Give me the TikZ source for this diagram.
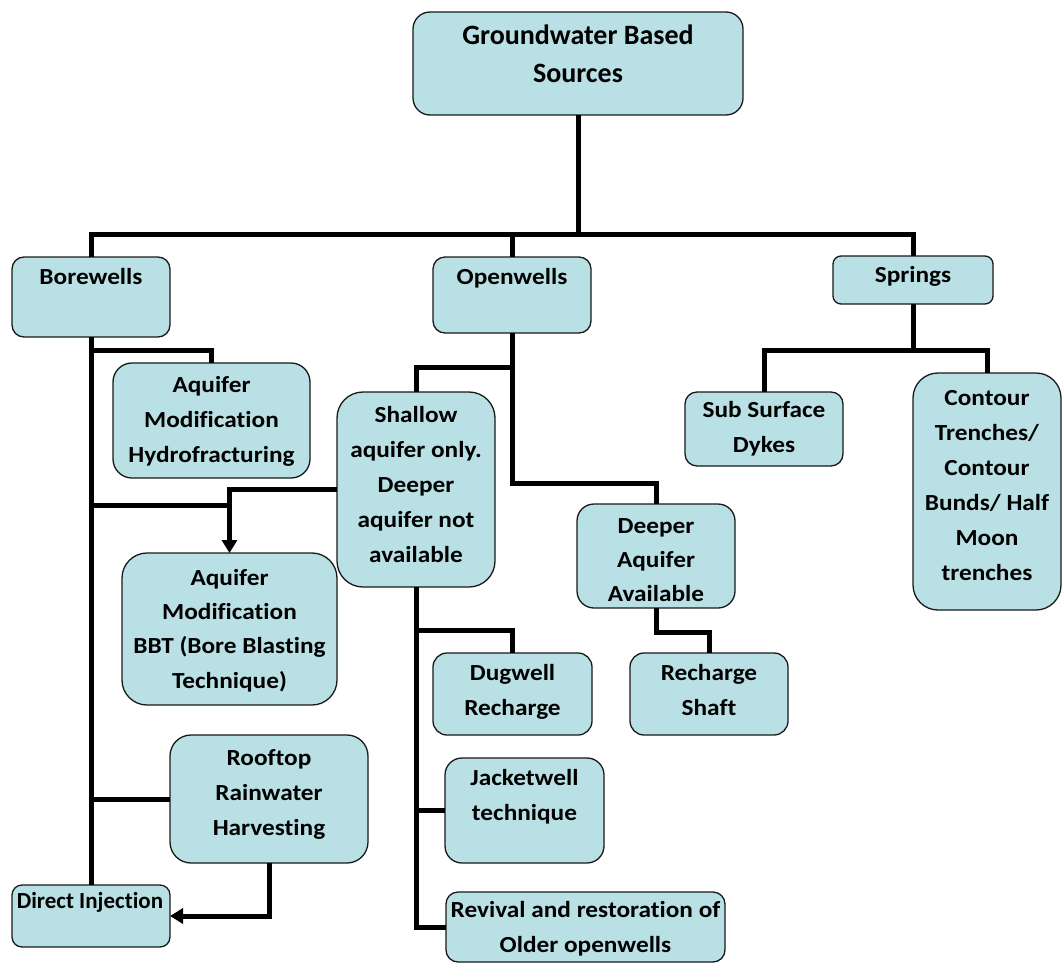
\documentclass[tikz,border=0pt]{standalone}
\usepackage{fontspec}
\setmainfont{Carlito}[FakeStretch=1.1, Ligatures=NoCommon]
\newfontfamily\plainfont{Carlito}[Ligatures=NoCommon]
\usetikzlibrary{arrows.meta}
\definecolor{boxfill}{RGB}{185,224,228}
\definecolor{boxline}{RGB}{25,25,25}
\tikzset{
  box/.style={draw=boxline, fill=boxfill, line width=1.3pt, inner sep=0pt, outer sep=0pt},
  txt/.style={align=center, inner sep=0pt, anchor=base, font=\fontsize{23}{35}\selectfont\bfseries},
  conn/.style={draw=black, line width=5pt},
  arr/.style={-{Triangle[length=13pt,width=15pt]}}
}
\begin{document}
\begin{tikzpicture}[x=1pt,y=-1pt]
\useasboundingbox (0,0) rectangle (1063,964);

% boxes
\node[box, minimum width=330, minimum height=103, rounded corners=17] (top) at (578,63.5) {};
\node[box, minimum width=158, minimum height=80, rounded corners=12] (bore) at (91,297) {};
\node[box, minimum width=158, minimum height=76, rounded corners=12] (open) at (512,295) {};
\node[box, minimum width=160, minimum height=48, rounded corners=8] (spr) at (913,280) {};
\node[box, minimum width=197, minimum height=115, rounded corners=19] (hydro) at (211.5,420.5) {};
\node[box, minimum width=158, minimum height=195, rounded corners=26] (shallow) at (416,489.5) {};
\node[box, minimum width=158, minimum height=104, rounded corners=17] (deeper) at (656,556) {};
\node[box, minimum width=158, minimum height=74, rounded corners=12] (sub) at (764,429) {};
\node[box, minimum width=148, minimum height=237, rounded corners=25] (contour) at (987,491.5) {};
\node[box, minimum width=215, minimum height=152, rounded corners=25] (bbt) at (229.5,629) {};
\node[box, minimum width=159, minimum height=82, rounded corners=14] (dug) at (512.5,694) {};
\node[box, minimum width=158, minimum height=82, rounded corners=14] (shaft) at (709,694) {};
\node[box, minimum width=198, minimum height=128, rounded corners=21] (roof) at (269,799) {};
\node[box, minimum width=159, minimum height=105, rounded corners=17] (jacket) at (524.5,810.5) {};
\node[box, minimum width=158, minimum height=62, rounded corners=10] (direct) at (91,916) {};
\node[box, minimum width=279, minimum height=70, rounded corners=12] (revival) at (585.5,927) {};

% texts (anchored at the baseline of the last line)
\node[txt, font=\plainfont\fontsize{28}{38}\selectfont\bfseries] (ttop) at (578,82) {Groundwater Based\\Sources};
\node[txt] (tbore) at (91,284) {Borewells};
\node[txt] (topen) at (512,284) {Openwells};
\node[txt] (tspr) at (913,282) {Springs};
\node[txt] (thydro) at (211.5,462) {Aquifer\\Modification\\Hydrofracturing};
\node[txt] (tshallow) at (416,562) {Shallow\\aquifer only.\\Deeper\\aquifer not\\available};
\node[txt, font=\fontsize{23}{34}\selectfont\bfseries] (tdeeper) at (656,601) {Deeper\\Aquifer\\Available};
\node[txt] (tsub) at (764,452) {Sub Surface\\Dykes};
\node[txt] (tcontour) at (987,580) {Contour\\Trenches/\\Contour\\Bunds/ Half\\Moon\\trenches};
\node[txt, font=\fontsize{23}{34.3}\selectfont\bfseries] (tbbt) at (229.5,688) {Aquifer\\Modification\\BBT (Bore Blasting\\Technique)};
\node[txt] (tdug) at (512.5,715) {Dugwell\\Recharge};
\node[txt] (tshaft) at (709,715) {Recharge\\Shaft};
\node[txt] (troof) at (269,835) {Rooftop\\Rainwater\\Harvesting};
\node[txt] (tjacket) at (524.5,820) {Jacketwell\\technique};
\node[txt, font=\plainfont\fontsize{23}{35}\selectfont\bfseries] (tdirect) at (90,908) {Direct Injection};
\node[txt] (trevival) at (585.5,952) {Revival and restoration of\\Older openwells};

% connectors
\coordinate (bar) at (0,234);
\draw[conn] (top.south) -- (top.south |- bar);
\draw[conn] (bore.north) |- (spr.north |- bar) -- (spr.north);
\draw[conn] (open.north) -- (open.north |- bar);

\draw[conn] (bore.south) -- (direct.north);
\coordinate (hy) at (0,350);
\draw[conn] (bore.south |- hy) -| (hydro.north);
\coordinate (bb) at (0,505);
\draw[conn] (bore.south |- bb) -- (bbt.north |- bb);
\draw[conn, arr] (shallow.west) -| (bbt.north);
\draw[conn] (roof.west) -- (roof.west -| bore.south);
\draw[conn, arr] (roof.south) |- (direct.east);

\coordinate (ow1) at (0,367);
\coordinate (ow2) at (0,483);
\draw[conn] (open.south) -- (open.south |- ow2) -| (deeper.north);
\draw[conn] (open.south |- ow1) -| (shallow.north);
\draw[conn] (shallow.south) |- (revival.west);
\coordinate (dg) at (0,630);
\draw[conn] (shallow.south |- dg) -| (dug.north);
\draw[conn] (jacket.west) -- (jacket.west -| shallow.south);
\coordinate (dp) at (0,632);
\draw[conn] (deeper.south) -- (deeper.south |- dp) -| (shaft.north);

\coordinate (sp) at (0,350);
\draw[conn] (spr.south) -- (spr.south |- sp);
\draw[conn] (sub.north) |- (contour.north |- sp) -- (contour.north);
\end{tikzpicture}
\end{document}
